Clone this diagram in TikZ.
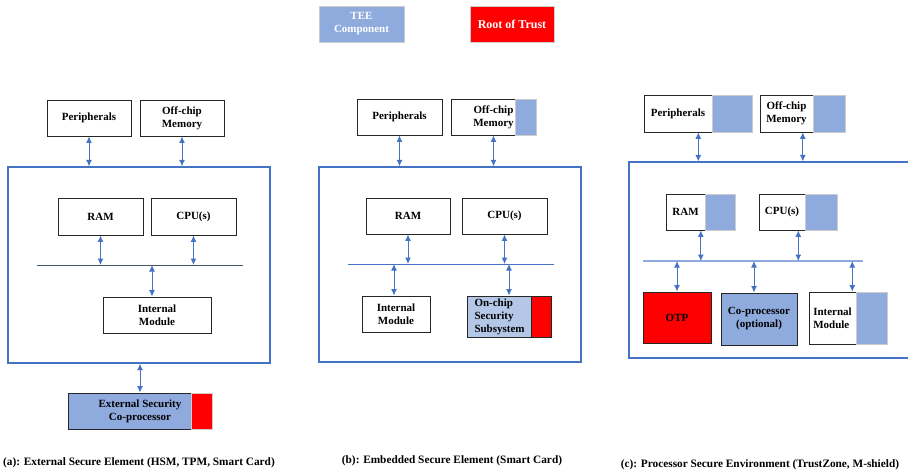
\documentclass[tikz,border=0pt]{standalone}
\usepackage{fontspec}
\setmainfont{Liberation Serif}
\usetikzlibrary{arrows.meta,positioning,calc}
\definecolor{teeblue}{HTML}{8FAADC}
\definecolor{paleblue}{HTML}{B4C7E7}
\definecolor{rotred}{HTML}{FF0000}
\definecolor{linkblue}{HTML}{4472C4}
\definecolor{busgray}{HTML}{44546A}

\begin{document}
\begin{tikzpicture}[x=1pt,y=-1pt,
  every node/.style={font=\fontsize{11}{13}\selectfont\bfseries,inner sep=0pt},
  box/.style={draw=black!85,line width=0.9pt,fill=white,align=center},
  chip/.style={draw=linkblue,line width=1.3pt},
  teepart/.style={fill=teeblue,draw=black!20,line width=0.6pt},
  rotpart/.style={fill=rotred,draw=black!20,line width=0.6pt},
  link/.style={linkblue,line width=1pt,{Latex[length=6.5pt,width=6pt]}-{Latex[length=6.5pt,width=6pt]}},
  bus/.style={linkblue,line width=0.9pt},
  caption/.style={font=\fontsize{11.3}{13}\selectfont\bfseries}]

\clip (0,0) rectangle (908,472);

% legend
\node[teepart,text=white,align=center,minimum width=85,minimum height=36] (legtee) at (361.5,24) {TEE\\Component};
\node[rotpart,text=white,font=\fontsize{12}{14}\selectfont\bfseries,minimum width=84,minimum height=36] (legrot) at (512,24) {Root of Trust};

% (a) external secure element
\node[box,minimum width=84,minimum height=36] (perA) at (89,118) {Peripherals};
\node[box,minimum width=84,minimum height=36] (memA) at (182,118) {Off-chip\\Memory};
\node[chip,minimum width=262,minimum height=196] (outA) at (139,265) {};
\node[box,minimum width=85,minimum height=37] (ramA) at (100.5,216.5) {RAM};
\node[box,minimum width=85,minimum height=37] (cpuA) at (193.5,216.5) {CPU(s)};
\node[box,minimum width=108,minimum height=36] (intA) at (157,315) {Internal\\Module};
\node[box,fill=teeblue,minimum width=144,minimum height=36] (extA) at (140,411) {External Security\\Co-processor};
\node[rotpart,anchor=north east,minimum width=21,minimum height=36] (extAr) at (extA.north east) {};
\coordinate (busAw) at (37,265);
\coordinate (busAe) at (243,265);
\draw[busgray,line width=0.8pt] (busAw) -- (busAe);

\draw[link] (perA.south) -- (perA.south |- outA.north);
\draw[link] (memA.south) -- (memA.south |- outA.north);
\draw[link] (ramA.south) -- (ramA.south |- busAw);
\draw[link] (cpuA.south) -- (cpuA.south |- busAw);
\draw[link] ([xshift=-5pt]intA.north |- busAw) -- ([xshift=-5pt]intA.north);
\draw[link] (extA.north) -- (extA.north |- outA.south);

\node[caption,anchor=west] (capA) at (3,463) {(a): External Secure Element (HSM, TPM, Smart Card)};

% (b) embedded secure element
\node[box,minimum width=85,minimum height=36] (perB) at (399.5,117) {Peripherals};
\node[box,minimum width=85,minimum height=36] (memB) at (493.5,117) {Off-chip\\Memory};
\node[teepart,anchor=north east,minimum width=21,minimum height=36] (memBt) at (memB.north east) {};
\node[chip,minimum width=262,minimum height=195] (outB) at (450,264.5) {};
\node[box,minimum width=84,minimum height=36] (ramB) at (408,216) {RAM};
\node[box,minimum width=85,minimum height=36] (cpuB) at (504.5,216) {CPU(s)};
\node[box,minimum width=68,minimum height=36] (intB) at (396,314) {Internal\\Module};
\node[box,fill=paleblue,align=left,text width=79,minimum width=84,minimum height=41] (socB) at (509,316.5) {\hspace*{5pt}On-chip\\\hspace*{5pt}Security\\\hspace*{5pt}Subsystem};
\node[rotpart,draw=black!85,line width=0.9pt,anchor=north east,minimum width=20,minimum height=41] (socBr) at (socB.north east) {};
\coordinate (busBw) at (348,264);
\coordinate (busBe) at (554,264);
\draw[bus] (busBw) -- (busBe);

\draw[link] (perB.south) -- (perB.south |- outB.north);
\draw[link] (memB.south) -- (memB.south |- outB.north);
\draw[link] (ramB.south) -- (ramB.south |- busBw);
\draw[link] (cpuB.south) -- (cpuB.south |- busBw);
\draw[link] ([xshift=-2pt]intB.north |- busBw) -- ([xshift=-2pt]intB.north);
\draw[link] (socB.north |- busBw) -- (socB.north);

\node[caption] (capB) at (452,461) {(b): Embedded Secure Element (Smart Card)};

% (c) processor secure environment
\node[box,minimum width=68,minimum height=37] (perC) at (678,113.5) {Peripherals};
\node[teepart,anchor=west,minimum width=40,minimum height=37] (perCt) at (perC.east) {};
\node[box,minimum width=53,minimum height=37] (memC) at (786.5,113.5) {Off-chip\\Memory};
\node[teepart,anchor=west,minimum width=32,minimum height=37] (memCt) at (memC.east) {};
\node[chip,minimum width=291,minimum height=196] (outC) at (774.5,260) {};
\node[box,minimum width=39,minimum height=36] (ramC) at (685.5,212) {RAM};
\node[teepart,anchor=west,minimum width=30,minimum height=36] (ramCt) at (ramC.east) {};
\node[box,minimum width=46,minimum height=36] (cpuC) at (782,212) {CPU(s)};
\node[teepart,anchor=west,minimum width=32,minimum height=36] (cpuCt) at (cpuC.east) {};
\node[box,fill=rotred,minimum width=68,minimum height=51] (otpC) at (677,317.5) {OTP};
\node[box,fill=teeblue,minimum width=76,minimum height=52] (copC) at (759,319) {Co-processor\\(optional)};
\node[box,align=left,minimum width=47,minimum height=52] (intC) at (832.5,318) {Internal\\Module};
\node[teepart,anchor=west,minimum width=31,minimum height=52] (intCt) at (intC.east) {};
\coordinate (busCw) at (643,261);
\coordinate (busCe) at (863,261);
\draw[teeblue,line width=1.6pt] (busCw) -- (busCe);

\coordinate (perCm) at ($(perC.south west)!.5!(perCt.south east)$);
\coordinate (memCm) at ($(memC.south west)!.5!(memCt.south east)$);
\coordinate (ramCm) at ($(ramC.south west)!.5!(ramCt.south east)$);
\coordinate (cpuCm) at ($(cpuC.south west)!.5!(cpuCt.south east)$);
\coordinate (intCm) at ($(intC.north west)!.55!(intCt.north east)$);
\draw[link] (perCm) -- (perCm |- outC.north);
\draw[link] (memCm) -- (memCm |- outC.north);
\draw[link] (ramCm) -- (ramCm |- busCw);
\draw[link] (cpuCm) -- (cpuCm |- busCw);
\draw[link] (otpC.north |- busCw) -- (otpC.north);
\draw[link] ([xshift=-5pt]copC.north |- busCw) -- ([xshift=-5pt]copC.north);
\draw[link] (intCm |- busCw) -- (intCm);

\node[caption] (capC) at (760,465) {(c): Processor Secure Environment (TrustZone, M-shield)};
\end{tikzpicture}
\end{document}
